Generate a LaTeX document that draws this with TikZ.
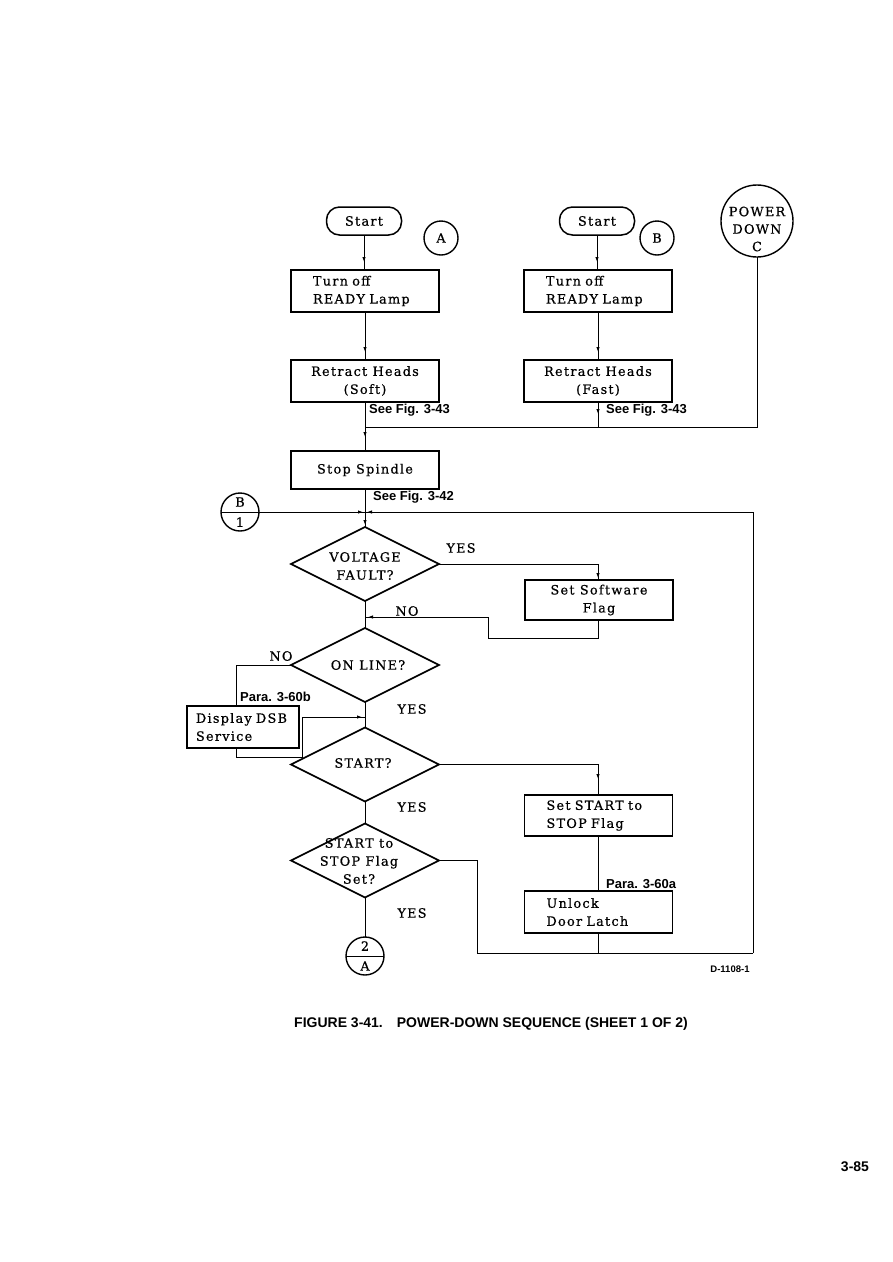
\documentclass[tikz,border=0pt]{standalone}
\usepackage{fontspec}
\setmainfont{DejaVu Serif}[LetterSpace=10,FakeBold=0.6]
\newfontfamily\labfont{Liberation Sans}
\usetikzlibrary{shapes.geometric,arrows.meta,decorations.markings}
\tikzset{
  every node/.style={font=\fontsize{12.8}{18}\selectfont},
  box/.style={draw, line width=1.7pt, minimum width=148pt, minimum height=42pt, inner sep=0pt, outer sep=0pt},
  term/.style={draw, line width=1.5pt, rounded corners=13pt, minimum width=75pt, minimum height=28pt, inner sep=0pt, outer sep=0pt},
  dia/.style={draw, diamond, line width=1.7pt, minimum width=148pt, minimum height=74pt, inner sep=0pt, outer sep=0pt},
  conn/.style={draw, circle, line width=1.4pt, minimum size=34pt, inner sep=0pt, outer sep=0pt},
  bigconn/.style={draw, circle, line width=1.4pt, minimum size=72pt, inner sep=0pt, outer sep=0pt},
  splitconn/.style={draw, circle, line width=1.4pt, minimum size=38pt, inner sep=0pt, outer sep=0pt},
  wire/.style={line width=0.9pt},
  tip/.style={postaction={decorate}, decoration={markings, mark=at position #1 with {\arrow{Latex[length=5pt,width=3.5pt]}}}},
  tip/.default={-8pt},
  lbl/.style={font=\labfont\bfseries\fontsize{13}{15}\selectfont, anchor=west, inner sep=0pt},
  yn/.style={inner sep=0pt},
}
\begin{document}
\begin{tikzpicture}[x=1pt,y=-1pt]
\useasboundingbox[fill=white] (0,0) rectangle (893,1262);

% column A
\node[term] (sa) at (364,221) {Start};
\node[conn] (ca) at (441,238) {A};
\node[box,align=left,text width=104pt] (ta) at (365,291) {Turn off\\READY Lamp};
\node[box,align=center] (ra) at (365,381) {Retract Heads\\(Soft)};
\node[lbl] (fa) at (369,410) {See Fig. 3-43};

% column B
\node[term] (sb) at (597,221) {Start};
\node[conn] (cb) at (657,238) {B};
\node[box,align=left,text width=104pt] (tb) at (598,291) {Turn off\\READY Lamp};
\node[box,align=center] (rb) at (598,381) {Retract Heads\\(Fast)};
\node[lbl] (fb) at (606,410) {See Fig. 3-43};

% power down
\node[bigconn] (pd) at (757,221) {};
\node[align=center, inner sep=0pt, font=\fontsize{12.8}{17.5}\selectfont] (pdt) at (757,229) {POWER\\DOWN\\C};

\coordinate (h1) at (365,427);
\coordinate (h2) at (598,427);
\coordinate (h3) at (757,427);

\node[box, minimum height=38pt] (sp) at (365,470) {Stop Spindle};
\node[lbl] (fc) at (373,497) {See Fig. 3-42};

% B1 connector
\node[splitconn] (b1) at (240,512) {};
\node[yn] (b1t) at (240,502) {B};
\node[yn] (b1b) at (240,522) {1};

\coordinate (j) at (365,512);
\coordinate (jr) at (753,512);
\coordinate (jb) at (753,953);

% decisions
\node[dia] (vf) at (365,564) {};
\node[align=center, inner sep=0pt] (vft) at (365,566) {VOLTAGE\\FAULT?};
\node[box, minimum height=40pt, align=center] (sf) at (599,600) {Set Software\\Flag};
\node[yn] (y1) at (461,548) {YES};
\node[yn] (n1) at (407,611) {NO};

\node[dia] (ol) at (365,665) {};
\node[inner sep=0pt] (olt) at (368,665) {ON LINE?};
\node[yn] (n2) at (281,656) {NO};
\node[lbl] (pb) at (240,697) {Para. 3-60b};
\node[box, minimum width=112pt, align=left, text width=94pt] (ds) at (243,727) {Display DSB\\Service};
\node[yn] (y2) at (412,709) {YES};

\node[dia] (st) at (365,764.5) {};
\node[inner sep=0pt] (stt) at (363,763) {START?};
\node[yn] (y3) at (412,807) {YES};
\node[box, minimum height=41pt, align=left, text width=104pt] (ssf) at (598.5,815.5) {Set START to\\STOP Flag};
\node[lbl] (pa) at (606,884) {Para. 3-60a};
\node[box, align=left, text width=104pt] (ul) at (598.5,912) {Unlock\\Door Latch};

\node[dia] (ss) at (365,860.5) {};
\node[align=center, inner sep=0pt] (sst) at (359,861) {START to\\STOP Flag\\Set?};
\node[yn] (y4) at (412,913) {YES};

\node[splitconn] (c2) at (365,956) {};
\node[yn] (c2t) at (365,946) {2};
\node[yn] (c2b) at (365,966) {A};

% connectors
\draw[line width=1pt] (c2.west) -- (c2.east);
\draw[wire,tip] (sa.south) -- (sa.south |- ta.north);
\draw[wire,tip] (ta.south) -- (ra.north);
\draw[wire,tip] (sb.south) -- (sb.south |- tb.north);
\draw[wire,tip] (tb.south) -- (rb.north);
\draw[wire,tip=-14pt] (ra.south) -- (sp.north);
\draw[wire,tip=12pt] (rb.south) -- (h2);
\draw[wire] (pd.south) -- (h3) -- (h1);
\draw[wire] (sp.south) -- (j);
\draw[wire] (b1.west) -- (b1.east);
\draw[wire,tip=-2pt] (b1.east) -- (j);
\draw[wire,tip=-2pt] (jr) -- (j);
\draw[wire] (jb) -- (jr);
\draw[wire,tip=-2pt] (j) -- (vf.north);

\coordinate (v1) at (598,564);
\draw[wire,tip=-2pt] (vf.east) -- (v1) -- (sf.north -| v1);
\coordinate (r1) at (598,638);
\coordinate (r2) at (488,638);
\coordinate (r3) at (488,617);
\coordinate (r4) at (365,617);
\draw[wire,tip=-3pt] (sf.south -| r1) -- (r1) -- (r2) -- (r3) -- (r4);
\draw[wire] (vf.south) -- (ol.north);

\coordinate (o1) at (236,665);
\draw[wire] (ol.west) -- (o1) -- (o1 |- ds.north);
\coordinate (o2) at (236,757);
\coordinate (o3) at (302,757);
\coordinate (o4) at (302,717);
\coordinate (o5) at (365,717);
\draw[wire,tip=-3pt] (o1 |- ds.south) -- (o2) -- (o3) -- (o4) -- (o5);
\draw[wire] (ol.south) -- (st.north);

\coordinate (s1) at (598,764.5);
\draw[wire,tip=-16pt] (st.east) -- (s1) -- (ssf.north -| s1);
\draw[wire] (ssf.south -| s1) -- (ul.north -| s1);
\draw[wire] (ul.south -| s1) -- (s1 |- jb);
\draw[wire] (st.south) -- (ss.north);
\draw[wire] (ss.south) -- (c2.north);
\coordinate (e1) at (477,860.5);
\draw[wire] (ss.east) -- (e1) -- (e1 |- jb) -- (jb);

% notes
\node[font=\labfont\bfseries\fontsize{9.5}{11}\selectfont, inner sep=0pt] (dn) at (730,969) {D-1108-1};
\node[font=\labfont\bfseries\fontsize{14}{16}\selectfont, inner sep=0pt] (cap) at (491,1024) {FIGURE 3-41.\hspace{14pt}POWER-DOWN SEQUENCE (SHEET 1 OF 2)};
\node[font=\labfont\bfseries\fontsize{14}{16}\selectfont, inner sep=0pt] (pg) at (855,1167) {3-85};
\end{tikzpicture}
\end{document}
